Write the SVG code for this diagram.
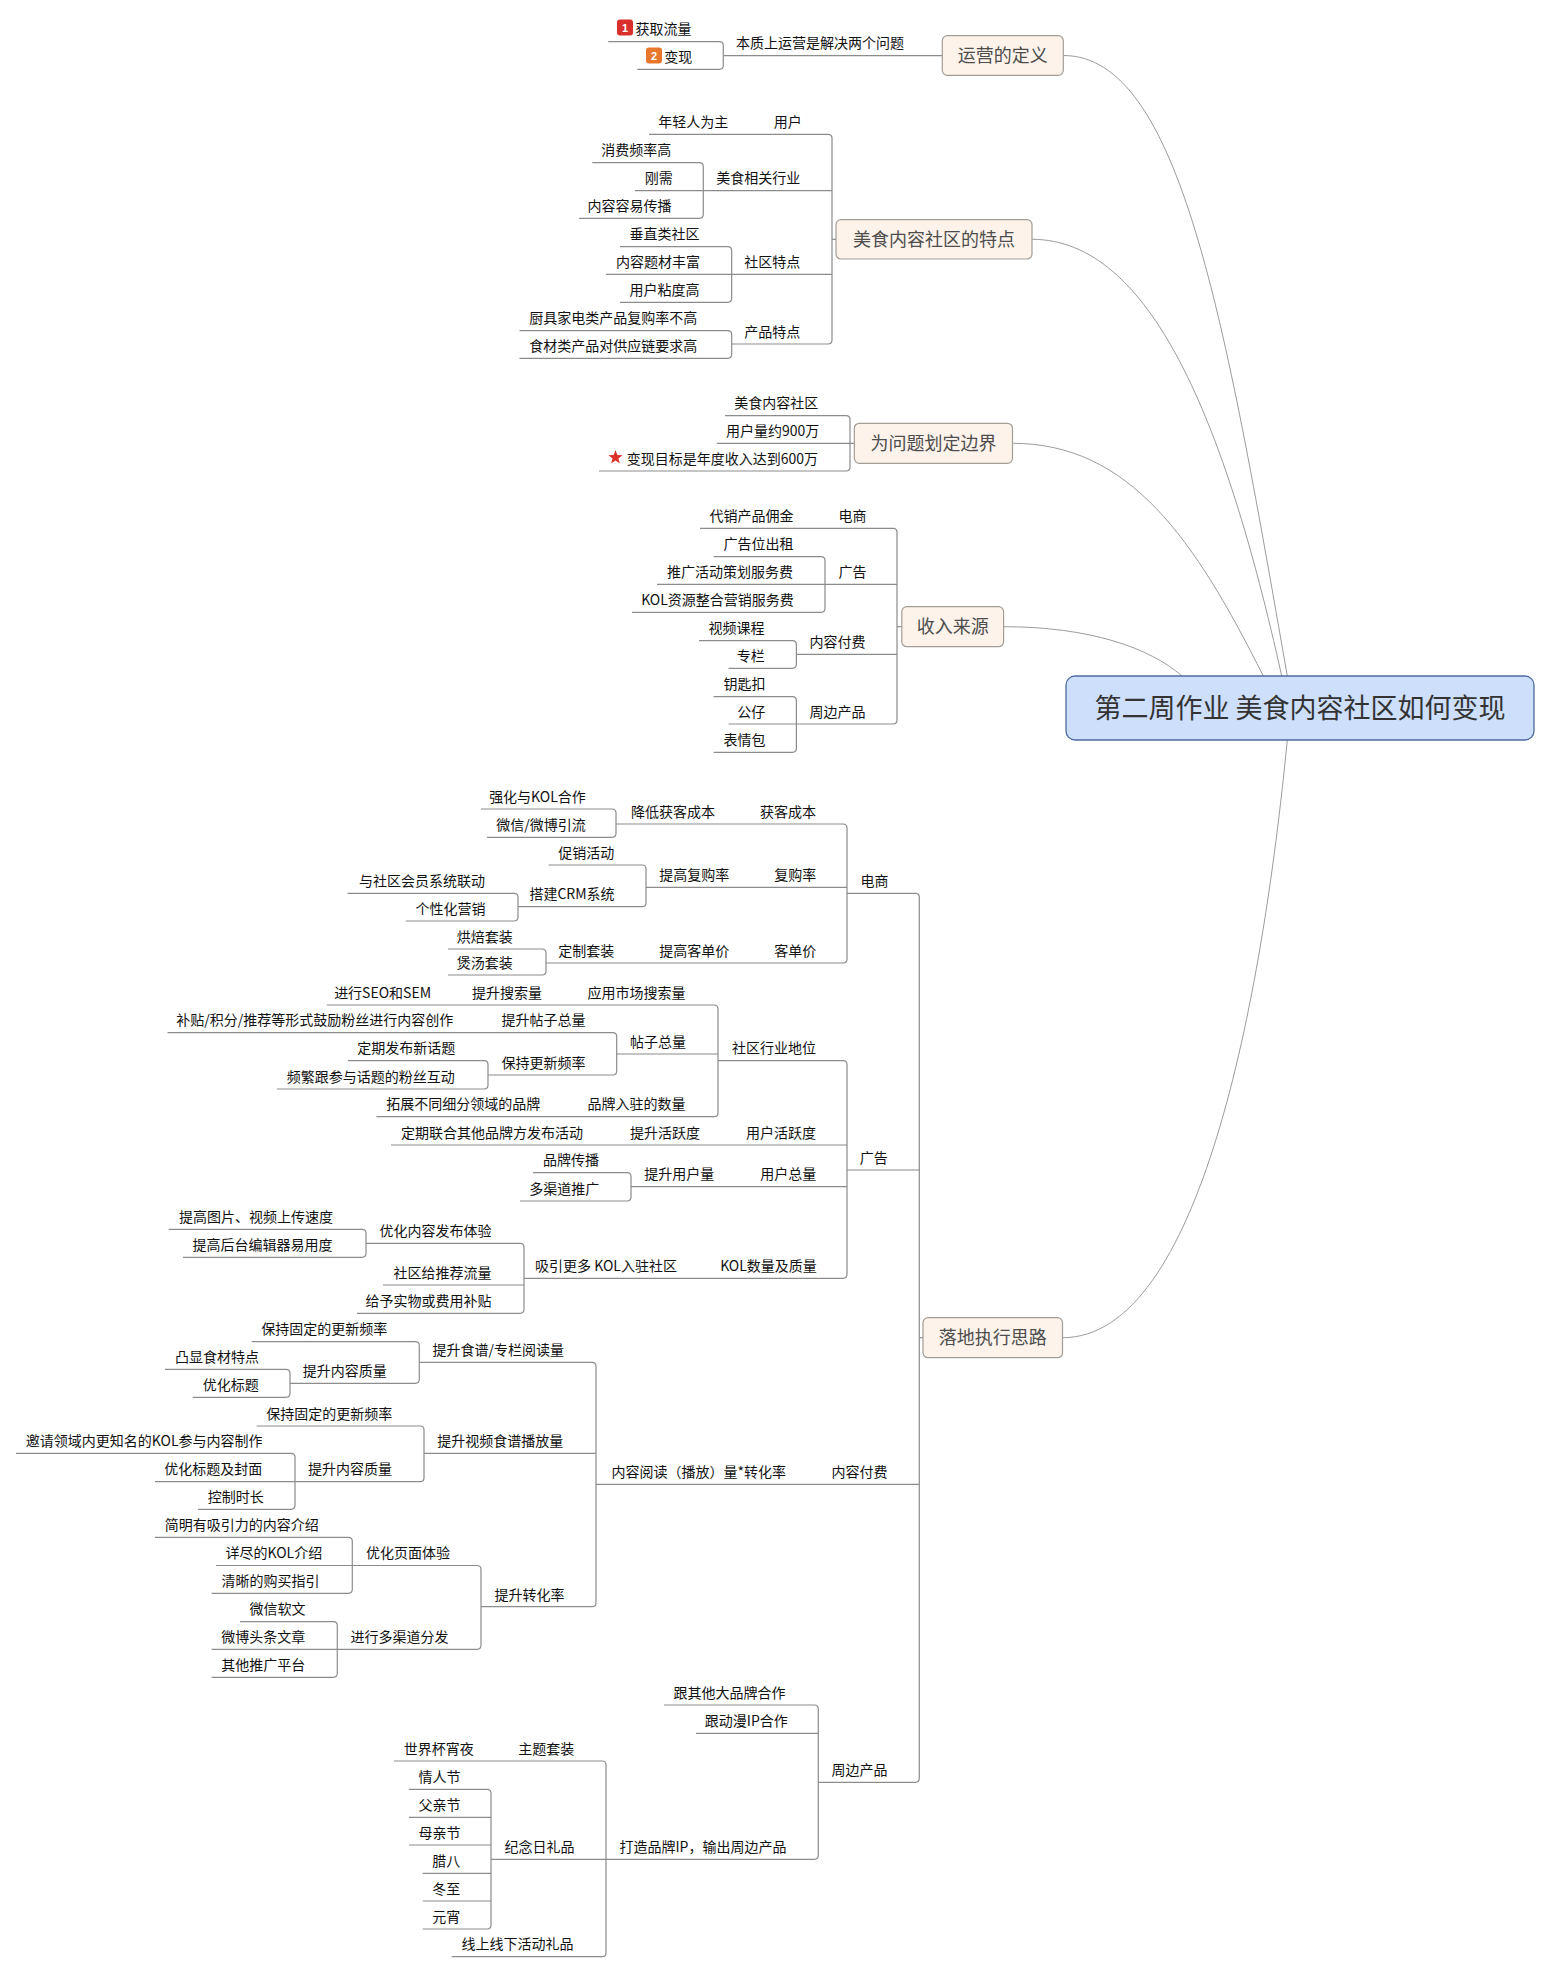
<svg xmlns="http://www.w3.org/2000/svg" width="1551" height="1973" viewBox="0 0 1551 1973">
<style>
.c{fill:none;stroke:#8c8c8c;stroke-width:1.2}
.cv{fill:none;stroke:#9c9c9c;stroke-width:1}
text{font-family:"Noto Sans CJK SC","Liberation Sans",sans-serif}
.t{font-size:14px;fill:#111;text-anchor:middle}
.m rect{fill:#fdf3ea;stroke:#a39d97;stroke-width:1.2}
.m text{font-size:18px;fill:#4d4d4d;text-anchor:middle}
.r rect{fill:#cddffb;stroke:#4e6b9e;stroke-width:1.3}
.r text{font-size:27px;fill:#333;text-anchor:middle}
.b{font-size:11px;font-weight:bold;fill:#fff;text-anchor:middle;font-family:"Liberation Sans",sans-serif}
</style>
<rect width="1551" height="1973" fill="#fff"/>
<g id="connectors">
<path class="cv" d="M1063.3 55.5 C1180 55.5 1225 320 1287.3 676"/>
<path class="cv" d="M1032 239.3 C1150 239.3 1225 420 1281.7 676"/>
<path class="cv" d="M1012.5 443.3 C1130 443.3 1195 540 1263.3 676"/>
<path class="cv" d="M1003.6 626.7 C1090 626.7 1150 648 1182 676"/>
<path class="cv" d="M1062.5 1337.7 C1200 1337.7 1262 1000 1287.3 740"/>
<path class="c" d="M723.3 55.7 H942.3"/>
<path class="c" d="M608.3 41.7 H719.3 Q723.3 41.7 723.3 45.7 V65.3 Q723.3 69.3 719.3 69.3 H637.3"/>
<path class="c" d="M649 134.3 H828 Q832 134.3 832 138.3 V340 Q832 344 828 344 H731.7"/>
<path class="c" d="M832 239.3 H836"/>
<path class="c" d="M635 190.7 H832"/>
<path class="c" d="M592.3 162.7 H699.3 Q703.3 162.7 703.3 166.7 V214.3 Q703.3 218.3 699.3 218.3 H579"/>
<path class="c" d="M606 274.3 H832"/>
<path class="c" d="M620 246.7 H727.7 Q731.7 246.7 731.7 250.7 V298.3 Q731.7 302.3 727.7 302.3 H620"/>
<path class="c" d="M519.5 330.7 H727.7 Q731.7 330.7 731.7 334.7 V354.3 Q731.7 358.3 727.7 358.3 H519.5"/>
<path class="c" d="M725 415.7 H846 Q850 415.7 850 419.7 V467 Q850 471 846 471 H599"/>
<path class="c" d="M716.8 443.3 H854.3"/>
<path class="c" d="M700 528.3 H893 Q897 528.3 897 532.3 V720 Q897 724 893 724 H796.4"/>
<path class="c" d="M897 626.7 H901.8"/>
<path class="c" d="M657 584.3 H897"/>
<path class="c" d="M713.6 556.7 H821 Q825 556.7 825 560.7 V608.3 Q825 612.3 821 612.3 H632"/>
<path class="c" d="M796.4 654.3 H897"/>
<path class="c" d="M699 640.7 H792.4 Q796.4 640.7 796.4 644.7 V664.3 Q796.4 668.3 792.4 668.3 H728.6"/>
<path class="c" d="M728.6 724 H796.4"/>
<path class="c" d="M713.6 696.7 H792.4 Q796.4 696.7 796.4 700.7 V748.3 Q796.4 752.3 792.4 752.3 H713.6"/>
<path class="c" d="M847 893.3 H915.3 Q919.3 893.3 919.3 897.3 V1778.3 Q919.3 1782.3 915.3 1782.3 H818.3"/>
<path class="c" d="M919.3 1337.7 H923"/>
<path class="c" d="M616 824 H843 Q847 824 847 828 V959 Q847 963 843 963 H546"/>
<path class="c" d="M481 809 H612 Q616 809 616 813 V833.3 Q616 837.3 612 837.3 H487"/>
<path class="c" d="M646 887.3 H847"/>
<path class="c" d="M548.6 865 H642 Q646 865 646 869 V902.7 Q646 906.7 642 906.7 H518"/>
<path class="c" d="M347.6 893.3 H514 Q518 893.3 518 897.3 V917 Q518 921 514 921 H405.8"/>
<path class="c" d="M448 949 H542 Q546 949 546 953 V971 Q546 975 542 975 H448"/>
<path class="c" d="M847 1170 H919.3"/>
<path class="c" d="M718 1060.7 H843 Q847 1060.7 847 1064.7 V1274.3 Q847 1278.3 843 1278.3 H524"/>
<path class="c" d="M326.7 1005 H714 Q718 1005 718 1009 V1112.7 Q718 1116.7 714 1116.7 H376.4"/>
<path class="c" d="M616.7 1054 H718"/>
<path class="c" d="M167.5 1032.7 H612.7 Q616.7 1032.7 616.7 1036.7 V1071 Q616.7 1075 612.7 1075 H488"/>
<path class="c" d="M348 1060.7 H484 Q488 1060.7 488 1064.7 V1085 Q488 1089 484 1089 H277"/>
<path class="c" d="M391 1145 H847"/>
<path class="c" d="M631 1186.7 H847"/>
<path class="c" d="M533 1172.7 H627 Q631 1172.7 631 1176.7 V1197 Q631 1201 627 1201 H520"/>
<path class="c" d="M366 1243.3 H520 Q524 1243.3 524 1247.3 V1309.3 Q524 1313.3 520 1313.3 H357"/>
<path class="c" d="M383 1285 H524"/>
<path class="c" d="M168.7 1229.3 H362 Q366 1229.3 366 1233.3 V1253.3 Q366 1257.3 362 1257.3 H183"/>
<path class="c" d="M596 1484.3 H919.3"/>
<path class="c" d="M419.3 1362.3 H592 Q596 1362.3 596 1366.3 V1602.7 Q596 1606.7 592 1606.7 H481"/>
<path class="c" d="M251.7 1341.7 H415.3 Q419.3 1341.7 419.3 1345.7 V1379.3 Q419.3 1383.3 415.3 1383.3 H290"/>
<path class="c" d="M165 1369.3 H286 Q290 1369.3 290 1373.3 V1393.3 Q290 1397.3 286 1397.3 H192.7"/>
<path class="c" d="M424 1453.3 H596"/>
<path class="c" d="M256.7 1426 H420 Q424 1426 424 1430 V1477.7 Q424 1481.7 420 1481.7 H295"/>
<path class="c" d="M16 1453.3 H291 Q295 1453.3 295 1457.3 V1505.3 Q295 1509.3 291 1509.3 H198"/>
<path class="c" d="M155 1481.7 H295"/>
<path class="c" d="M352.3 1565.5 H477 Q481 1565.5 481 1569.5 V1645.3 Q481 1649.3 477 1649.3 H337.3"/>
<path class="c" d="M155 1537.3 H348.3 Q352.3 1537.3 352.3 1541.3 V1589.3 Q352.3 1593.3 348.3 1593.3 H211.7"/>
<path class="c" d="M216 1565.5 H352.3"/>
<path class="c" d="M240 1621.7 H333.3 Q337.3 1621.7 337.3 1625.7 V1673.3 Q337.3 1677.3 333.3 1677.3 H211.7"/>
<path class="c" d="M211.7 1649.3 H337.3"/>
<path class="c" d="M664 1705 H814.3 Q818.3 1705 818.3 1709 V1855.3 Q818.3 1859.3 814.3 1859.3 H606"/>
<path class="c" d="M696 1733.3 H818.3"/>
<path class="c" d="M394 1761 H602 Q606 1761 606 1765 V1952.7 Q606 1956.7 602 1956.7 H451.7"/>
<path class="c" d="M491 1859.3 H606"/>
<path class="c" d="M409 1789.3 H487 Q491 1789.3 491 1793.3 V1925 Q491 1929 487 1929 H422.7"/>
<path class="c" d="M409 1817.3 H491 M409 1845 H491 M422.7 1873.3 H491 M422.7 1901 H491"/>
</g>
<g id="root" class="r"><rect x="1066" y="676" width="468" height="64" rx="9"/><text x="1300" y="718">第二周作业 美食内容社区如何变现</text></g>
<g id="m1" class="m"><rect x="942.3" y="35.7" width="121" height="39.6" rx="5"/><text x="1002.8" y="62">运营的定义</text></g>
<g id="m2" class="m"><rect x="836" y="219.7" width="196" height="39.3" rx="5"/><text x="934" y="245.8">美食内容社区的特点</text></g>
<g id="m3" class="m"><rect x="854.3" y="423.3" width="158.2" height="40" rx="5"/><text x="933.4" y="449.8">为问题划定边界</text></g>
<g id="m4" class="m"><rect x="901.8" y="606.7" width="101.8" height="40" rx="5"/><text x="952.7" y="633.2">收入来源</text></g>
<g id="m5" class="m"><rect x="923" y="1317.7" width="139.5" height="40" rx="5"/><text x="992.8" y="1344.2">落地执行思路</text></g>
<g id="a1"><text class="t" x="820" y="48.2">本质上运营是解决两个问题</text></g>
<g id="a1a"><rect x="617" y="19.5" width="16" height="16" rx="3" fill="#d9302b"/><text class="b" x="625" y="31.5">1</text><text class="t" x="663.5" y="34.2">获取流量</text></g>
<g id="a1b"><rect x="646" y="47.5" width="16" height="16" rx="3" fill="#e8772c"/><text class="b" x="654" y="59.5">2</text><text class="t" x="678.3" y="61.8">变现</text></g>
<g id="b1"><text class="t" x="787.7" y="126.8">用户</text></g>
<g id="b1a"><text class="t" x="693.3" y="126.8">年轻人为主</text></g>
<g id="b2"><text class="t" x="758.3" y="183.2">美食相关行业</text></g>
<g id="b2a"><text class="t" x="636.2" y="155.2">消费频率高</text></g>
<g id="b2b"><text class="t" x="658.7" y="183.2">刚需</text></g>
<g id="b2c"><text class="t" x="629.5" y="210.8">内容容易传播</text></g>
<g id="b3"><text class="t" x="772.2" y="266.8">社区特点</text></g>
<g id="b3a"><text class="t" x="664.5" y="239.2">垂直类社区</text></g>
<g id="b3b"><text class="t" x="657.9" y="266.8">内容题材丰富</text></g>
<g id="b3c"><text class="t" x="664.5" y="294.8">用户粘度高</text></g>
<g id="b4"><text class="t" x="772.2" y="336.5">产品特点</text></g>
<g id="b4a"><text class="t" x="613.2" y="323.2">厨具家电类产品复购率不高</text></g>
<g id="b4b"><text class="t" x="613.2" y="350.8">食材类产品对供应链要求高</text></g>
<g id="c1"><text class="t" x="776.3" y="408.2">美食内容社区</text></g>
<g id="c2"><text class="t" x="772.7" y="435.8">用户量约900万</text></g>
<g id="c3"><polygon points="615.5,450 617.3,455.1 622.6,455.2 618.4,458.4 619.9,463.6 615.5,460.5 611.1,463.6 612.6,458.4 608.4,455.2 613.7,455.1" fill="#e0302a"/><text class="t" x="722.4" y="463.5">变现目标是年度收入达到600万</text></g>
<g id="d1"><text class="t" x="852.5" y="520.8">电商</text></g>
<g id="d1a"><text class="t" x="751.5" y="520.8">代销产品佣金</text></g>
<g id="d2"><text class="t" x="852.5" y="576.8">广告</text></g>
<g id="d2a"><text class="t" x="758.5" y="549.2">广告位出租</text></g>
<g id="d2b"><text class="t" x="730" y="576.8">推广活动策划服务费</text></g>
<g id="d2c"><text class="t" x="717.5" y="604.8">KOL资源整合营销服务费</text></g>
<g id="d3"><text class="t" x="837.5" y="646.8">内容付费</text></g>
<g id="d3a"><text class="t" x="736.5" y="633.2">视频课程</text></g>
<g id="d3b"><text class="t" x="750.7" y="660.8">专栏</text></g>
<g id="d4"><text class="t" x="837.5" y="716.5">周边产品</text></g>
<g id="d4a"><text class="t" x="744.5" y="689.2">钥匙扣</text></g>
<g id="d4b"><text class="t" x="751.2" y="716.5">公仔</text></g>
<g id="d4c"><text class="t" x="744.5" y="744.8">表情包</text></g>
<g id="e1"><text class="t" x="874.5" y="885.8">电商</text></g>
<g id="e1a"><text class="t" x="788" y="816.5">获客成本</text></g>
<g id="e1a1"><text class="t" x="673" y="816.5">降低获客成本</text></g>
<g id="e1a1a"><text class="t" x="537.5" y="801.5">强化与KOL合作</text></g>
<g id="e1a1b"><text class="t" x="541" y="829.8">微信/微博引流</text></g>
<g id="e1b"><text class="t" x="795.2" y="879.8">复购率</text></g>
<g id="e1b1"><text class="t" x="694.3" y="879.8">提高复购率</text></g>
<g id="e1b1a"><text class="t" x="586.3" y="857.5">促销活动</text></g>
<g id="e1b1b"><text class="t" x="572" y="899.2">搭建CRM系统</text></g>
<g id="e1b1b1"><text class="t" x="422" y="885.8">与社区会员系统联动</text></g>
<g id="e1b1b2"><text class="t" x="450.6" y="913.5">个性化营销</text></g>
<g id="e1c"><text class="t" x="795.2" y="955.5">客单价</text></g>
<g id="e1c1"><text class="t" x="694.3" y="955.5">提高客单价</text></g>
<g id="e1c1a"><text class="t" x="586.3" y="955.5">定制套装</text></g>
<g id="e1c1a1"><text class="t" x="484.8" y="941.5">烘焙套装</text></g>
<g id="e1c1a2"><text class="t" x="484.8" y="967.5">煲汤套装</text></g>
<g id="e2"><text class="t" x="873.7" y="1162.5">广告</text></g>
<g id="e2a"><text class="t" x="774" y="1053.2">社区行业地位</text></g>
<g id="e2a1"><text class="t" x="636.5" y="997.5">应用市场搜索量</text></g>
<g id="e2a1a"><text class="t" x="507" y="997.5">提升搜索量</text></g>
<g id="e2a1b"><text class="t" x="382.6" y="997.5">进行SEO和SEM</text></g>
<g id="e2a2"><text class="t" x="658" y="1046.5">帖子总量</text></g>
<g id="e2a2a"><text class="t" x="543.5" y="1025.2">提升帖子总量</text></g>
<g id="e2a2a1"><text class="t" x="314.8" y="1025.2">补贴/积分/推荐等形式鼓励粉丝进行内容创作</text></g>
<g id="e2a2b"><text class="t" x="543.5" y="1067.5">保持更新频率</text></g>
<g id="e2a2b1"><text class="t" x="406.3" y="1053.2">定期发布新话题</text></g>
<g id="e2a2b2"><text class="t" x="370.8" y="1081.5">频繁跟参与话题的粉丝互动</text></g>
<g id="e2a3"><text class="t" x="636.5" y="1109.2">品牌入驻的数量</text></g>
<g id="e2a3a"><text class="t" x="463.3" y="1109.2">拓展不同细分领域的品牌</text></g>
<g id="e2b"><text class="t" x="781" y="1137.5">用户活跃度</text></g>
<g id="e2b1"><text class="t" x="665" y="1137.5">提升活跃度</text></g>
<g id="e2b1a"><text class="t" x="492" y="1137.5">定期联合其他品牌方发布活动</text></g>
<g id="e2c"><text class="t" x="788.3" y="1179.2">用户总量</text></g>
<g id="e2c1"><text class="t" x="679.3" y="1179.2">提升用户量</text></g>
<g id="e2c1a"><text class="t" x="571" y="1165.2">品牌传播</text></g>
<g id="e2c1b"><text class="t" x="564.3" y="1193.5">多渠道推广</text></g>
<g id="e2d"><text class="t" x="768.5" y="1270.8">KOL数量及质量</text></g>
<g id="e2d1"><text class="t" x="606" y="1270.8">吸引更多 KOL入驻社区</text></g>
<g id="e2d1a"><text class="t" x="435.6" y="1235.8">优化内容发布体验</text></g>
<g id="e2d1a1"><text class="t" x="256" y="1221.8">提高图片、视频上传速度</text></g>
<g id="e2d1a2"><text class="t" x="262.5" y="1249.8">提高后台编辑器易用度</text></g>
<g id="e2d1b"><text class="t" x="442.4" y="1277.5">社区给推荐流量</text></g>
<g id="e2d1c"><text class="t" x="428.4" y="1305.8">给予实物或费用补贴</text></g>
<g id="e3"><text class="t" x="859.5" y="1476.8">内容付费</text></g>
<g id="e3a"><text class="t" x="698.7" y="1476.8">内容阅读（播放）量*转化率</text></g>
<g id="e3a1"><text class="t" x="498.3" y="1354.8">提升食谱/专栏阅读量</text></g>
<g id="e3a1a"><text class="t" x="324.2" y="1334.2">保持固定的更新频率</text></g>
<g id="e3a1b"><text class="t" x="344.8" y="1375.8">提升内容质量</text></g>
<g id="e3a1b1"><text class="t" x="217" y="1361.8">凸显食材特点</text></g>
<g id="e3a1b2"><text class="t" x="230.7" y="1389.8">优化标题</text></g>
<g id="e3a2"><text class="t" x="500.2" y="1445.8">提升视频食谱播放量</text></g>
<g id="e3a2a"><text class="t" x="329.2" y="1418.5">保持固定的更新频率</text></g>
<g id="e3a2b"><text class="t" x="350" y="1474.2">提升内容质量</text></g>
<g id="e3a2b1"><text class="t" x="144.2" y="1445.8">邀请领域内更知名的KOL参与内容制作</text></g>
<g id="e3a2b2"><text class="t" x="213.3" y="1474.2">优化标题及封面</text></g>
<g id="e3a2b3"><text class="t" x="235.7" y="1501.8">控制时长</text></g>
<g id="e3a3"><text class="t" x="529.5" y="1599.5">提升转化率</text></g>
<g id="e3a3a"><text class="t" x="408" y="1558">优化页面体验</text></g>
<g id="e3a3a1"><text class="t" x="241.7" y="1529.8">简明有吸引力的内容介绍</text></g>
<g id="e3a3a2"><text class="t" x="273.8" y="1558">详尽的KOL介绍</text></g>
<g id="e3a3a3"><text class="t" x="270.5" y="1585.8">清晰的购买指引</text></g>
<g id="e3a3b"><text class="t" x="399.5" y="1641.8">进行多渠道分发</text></g>
<g id="e3a3b1"><text class="t" x="277.5" y="1614.2">微信软文</text></g>
<g id="e3a3b2"><text class="t" x="263.3" y="1641.8">微博头条文章</text></g>
<g id="e3a3b3"><text class="t" x="263.3" y="1669.8">其他推广平台</text></g>
<g id="e4"><text class="t" x="859.5" y="1774.8">周边产品</text></g>
<g id="e4a"><text class="t" x="729.5" y="1697.5">跟其他大品牌合作</text></g>
<g id="e4b"><text class="t" x="746.3" y="1725.8">跟动漫IP合作</text></g>
<g id="e4c"><text class="t" x="703" y="1851.8">打造品牌IP，输出周边产品</text></g>
<g id="e4c1"><text class="t" x="546.2" y="1753.5">主题套装</text></g>
<g id="e4c1a"><text class="t" x="438.7" y="1753.5">世界杯宵夜</text></g>
<g id="e4c2"><text class="t" x="539.5" y="1851.8">纪念日礼品</text></g>
<g id="e4c2a"><text class="t" x="439.5" y="1781.8">情人节</text></g>
<g id="e4c2b"><text class="t" x="439.5" y="1809.8">父亲节</text></g>
<g id="e4c2c"><text class="t" x="439.5" y="1837.5">母亲节</text></g>
<g id="e4c2d"><text class="t" x="446.3" y="1865.8">腊八</text></g>
<g id="e4c2e"><text class="t" x="446.3" y="1893.5">冬至</text></g>
<g id="e4c2f"><text class="t" x="446.3" y="1921.5">元宵</text></g>
<g id="e4c3"><text class="t" x="517.5" y="1949.2">线上线下活动礼品</text></g>
</svg>
